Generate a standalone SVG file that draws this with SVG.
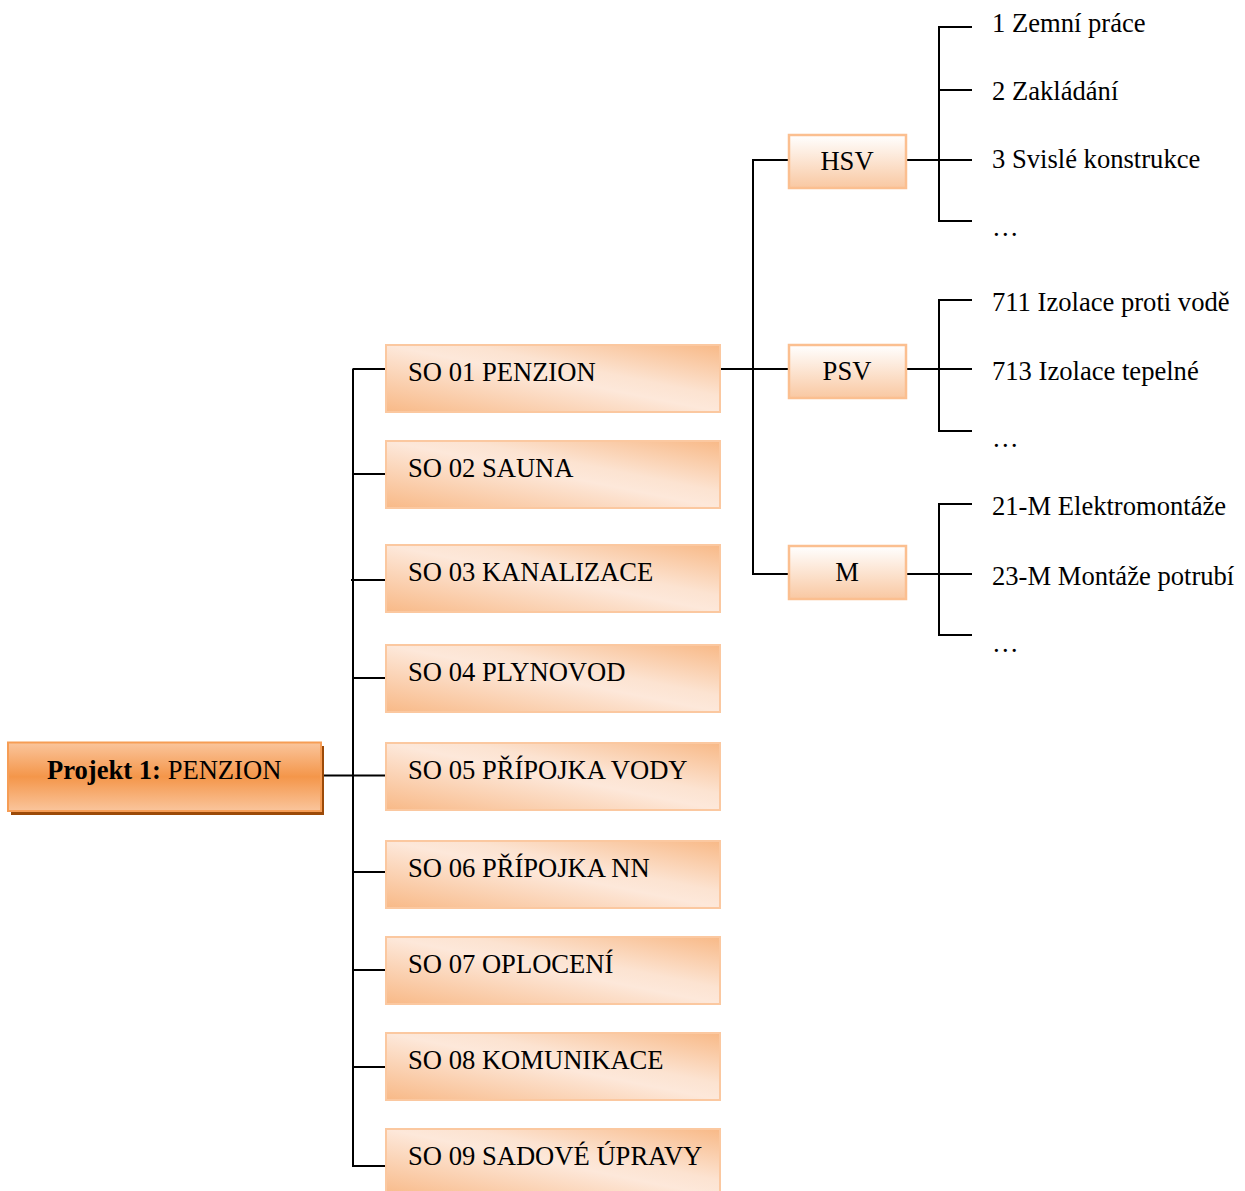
<svg xmlns="http://www.w3.org/2000/svg" width="1245" height="1191" viewBox="0 0 1245 1191">
  <defs>
    <!-- root node: darker orange band through the middle -->
    <linearGradient id="gRoot" x1="0" y1="0" x2="0" y2="1">
      <stop offset="0" stop-color="#fac59c"/>
      <stop offset="0.5" stop-color="#f4964a"/>
      <stop offset="1" stop-color="#fac59c"/>
    </linearGradient>
    <!-- building objects: diagonal orange-light-orange sweep -->
    <linearGradient id="gSO" x1="0" y1="1" x2="1" y2="0">
      <stop offset="0" stop-color="#f8b987"/>
      <stop offset="0.5" stop-color="#fde8da"/>
      <stop offset="0.62" stop-color="#fce3d1"/>
      <stop offset="1" stop-color="#f8b987"/>
    </linearGradient>
    <!-- cost sections: white fading to light orange -->
    <linearGradient id="gSec" x1="0" y1="0" x2="0" y2="1">
      <stop offset="0" stop-color="#ffffff"/>
      <stop offset="1" stop-color="#f9c8a2"/>
    </linearGradient>
  </defs>
  <style>
    text { font-family: "Liberation Serif", "Times New Roman", serif; font-size: 26.6px; fill: #000; }
    .root { fill: url(#gRoot); stroke: #f69d55; stroke-width: 2; }
    .shadow { fill: #9c4a08; }
    .so { fill: url(#gSO); stroke: #fbc8a0; stroke-width: 2; }
    .sec { fill: url(#gSec); stroke: #fbbf90; stroke-width: 2.5; }
    .mid { text-anchor: middle; }
    #connectors path { fill: none; stroke: #000; stroke-width: 2; }
  </style>
  <rect width="1245" height="1191" fill="#fff"/>

  <g id="connectors">
    <!-- project to building objects -->
    <path d="M321 775.5H386"/>
    <path d="M353 368.5V1166"/>
    <path d="M353 369H386"/>
    <path d="M353 474H386"/>
    <path d="M351 580H386"/>
    <path d="M353 678H386"/>
    <path d="M353 872H386"/>
    <path d="M353 970H386"/>
    <path d="M353 1067H386"/>
    <path d="M352 1166H386"/>
    <!-- SO 01 to sections -->
    <path d="M719 369H788"/>
    <path d="M753 160V574"/>
    <path d="M752 160H788"/>
    <path d="M752 574H788"/>
    <!-- HSV items -->
    <path d="M906 160H972"/>
    <path d="M972 27H939V221H972"/>
    <path d="M939 90H972"/>
    <!-- PSV items -->
    <path d="M906 369H972"/>
    <path d="M972 300H939V431H972"/>
    <!-- M items -->
    <path d="M906 574H972"/>
    <path d="M972 504H939V635H972"/>
  </g>

  <g id="project">
    <rect class="shadow" x="11" y="746" width="313" height="69"/>
    <rect class="root" x="8" y="742.5" width="313" height="68.5"/>
    <text x="47" y="779"><tspan font-weight="bold">Projekt 1:</tspan> PENZION</text>
  </g>

  <g id="so01"><rect class="so" x="386" y="345" width="334" height="67"/><text x="408" y="381">SO 01 PENZION</text></g>
  <g id="so02"><rect class="so" x="386" y="441" width="334" height="67"/><text x="408" y="477">SO 02 SAUNA</text></g>
  <g id="so03"><rect class="so" x="386" y="545" width="334" height="67"/><text x="408" y="581">SO 03 KANALIZACE</text></g>
  <g id="so04"><rect class="so" x="386" y="645" width="334" height="67"/><text x="408" y="681">SO 04 PLYNOVOD</text></g>
  <g id="so05"><rect class="so" x="386" y="743" width="334" height="67"/><text x="408" y="779">SO 05 PŘÍPOJKA VODY</text></g>
  <g id="so06"><rect class="so" x="386" y="841" width="334" height="67"/><text x="408" y="877">SO 06 PŘÍPOJKA NN</text></g>
  <g id="so07"><rect class="so" x="386" y="937" width="334" height="67"/><text x="408" y="973">SO 07 OPLOCENÍ</text></g>
  <g id="so08"><rect class="so" x="386" y="1033" width="334" height="67"/><text x="408" y="1069">SO 08 KOMUNIKACE</text></g>
  <g id="so09"><rect class="so" x="386" y="1129" width="334" height="68"/><text x="408" y="1165">SO 09 SADOVÉ ÚPRAVY</text></g>

  <g id="hsv"><rect class="sec" x="789" y="135" width="117" height="53"/><text class="mid" x="847" y="170">HSV</text></g>
  <g id="psv"><rect class="sec" x="789" y="345" width="117" height="53"/><text class="mid" x="847" y="380">PSV</text></g>
  <g id="m"><rect class="sec" x="789" y="546" width="117" height="53"/><text class="mid" x="847" y="581">M</text></g>

  <g id="hsv-items">
    <text x="992" y="32">1 Zemní práce</text>
    <text x="992" y="100">2 Zakládání</text>
    <text x="992" y="168">3 Svislé konstrukce</text>
    <text x="992" y="236">…</text>
  </g>
  <g id="psv-items">
    <text x="992" y="311">711 Izolace proti vodě</text>
    <text x="992" y="380">713 Izolace tepelné</text>
    <text x="992" y="447">…</text>
  </g>
  <g id="m-items">
    <text x="992" y="515">21-M Elektromontáže</text>
    <text x="992" y="585">23-M Montáže potrubí</text>
    <text x="992" y="652">…</text>
  </g>
</svg>
